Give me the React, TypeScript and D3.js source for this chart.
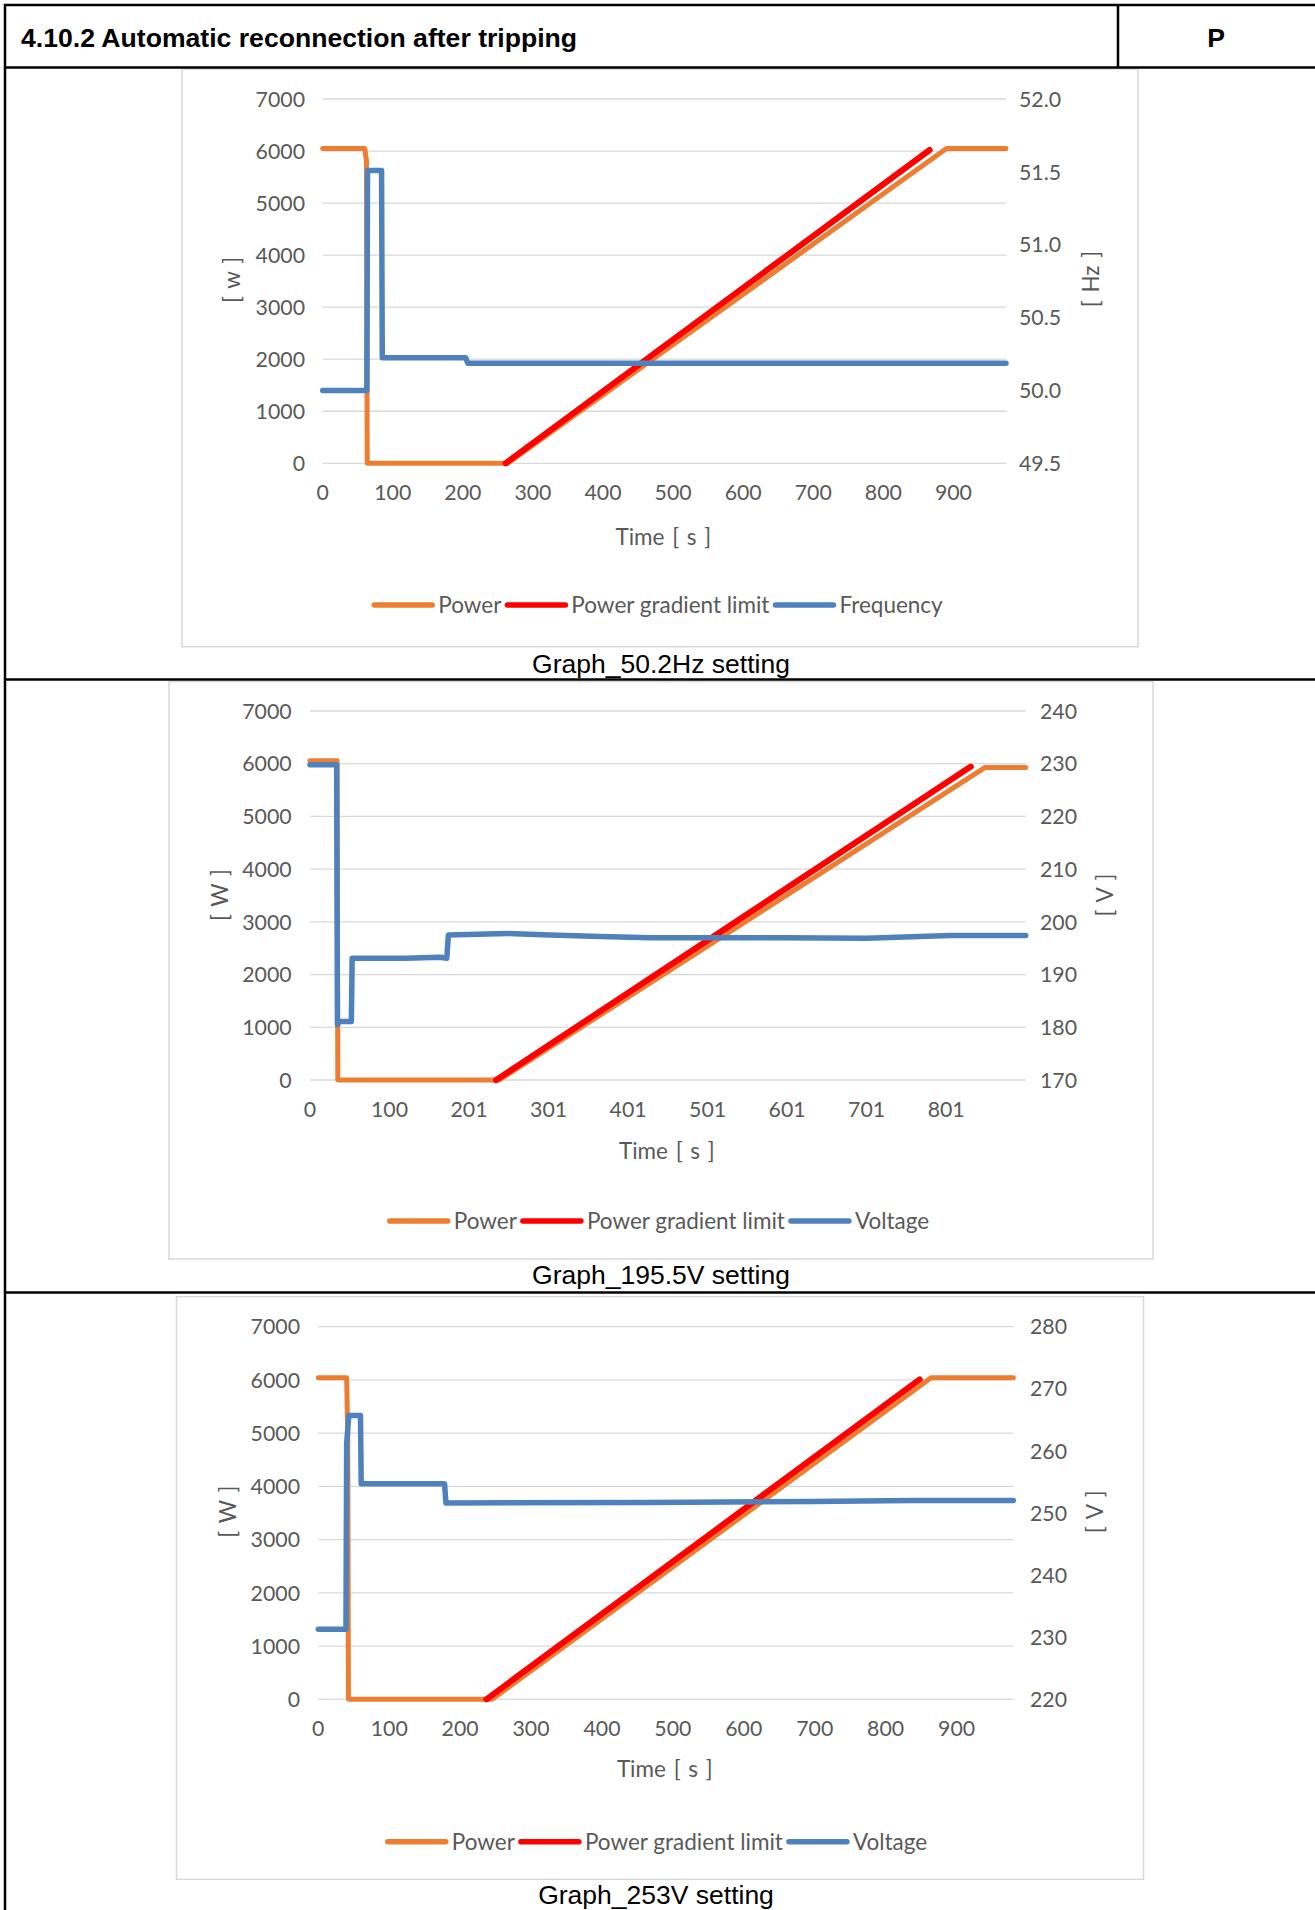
import React, { useEffect, useRef } from "react";
import * as d3 from "d3";

type Pt = [number, number];

// ---------- data ----------
const powerTicks = [0, 1000, 2000, 3000, 4000, 5000, 6000, 7000];

// Graph 1: 50.2 Hz setting
const time1Ticks = [0, 100, 200, 300, 400, 500, 600, 700, 800, 900];
const time1Labels = ["0", "100", "200", "300", "400", "500", "600", "700", "800", "900"];
const freqTicks = [49.5, 50.0, 50.5, 51.0, 51.5, 52.0];
const power1: Pt[] = [[0, 6050], [60, 6050], [62.5, 5800], [63.5, 0], [264, 0], [890, 6050], [975, 6050]];
const gradient1: Pt[] = [[261, 0], [866, 6020]];
const frequency1: Pt[] = [[0, 50.0], [63, 50.0], [64, 51.51], [84, 51.51], [85, 50.225], [204, 50.225], [207, 50.186], [975, 50.186]];

// Graph 2: 195.5 V setting
const time2Ticks = [0, 100, 200, 300, 400, 500, 600, 700, 800];
const time2Labels = ["0", "100", "201", "301", "401", "501", "601", "701", "801"];
const volt2Ticks = [170, 180, 190, 200, 210, 220, 230, 240];
const power2: Pt[] = [[0, 6055], [34, 6055], [35, 0], [238, 0], [849, 5930], [900, 5930]];
const gradient2: Pt[] = [[234, 0], [831, 5945]];
const voltage2: Pt[] = [[0, 229.8], [33.5, 229.8], [34.5, 180.5], [37, 181.1], [52, 181.1], [53, 193.1], [120, 193.1], [164, 193.3], [172, 193.1], [174, 197.5], [249, 197.8], [302, 197.5], [365, 197.2], [428, 197.0], [595, 197.0], [700, 196.9], [805, 197.4], [900, 197.4]];

// Graph 3: 253 V setting
const time3Ticks = [0, 100, 200, 300, 400, 500, 600, 700, 800, 900];
const time3Labels = ["0", "100", "200", "300", "400", "500", "600", "700", "800", "900"];
const volt3Ticks = [220, 230, 240, 250, 260, 270, 280];
const power3: Pt[] = [[0, 6040], [40, 6040], [41.5, 5000], [42.5, 0], [245, 0], [864, 6040], [980, 6040]];
const gradient3: Pt[] = [[237, 0], [848, 6010]];
const voltage3: Pt[] = [[0, 231.3], [39, 231.3], [40, 261.2], [43, 265.7], [59.5, 265.7], [60.5, 254.7], [178, 254.7], [180, 251.6], [467, 251.7], [696, 251.85], [837, 252.0], [980, 252.0]];

const seriesNames1 = ["Power", "Power gradient limit", "Frequency"];
const seriesNames23 = ["Power", "Power gradient limit", "Voltage"];

// ---------- style ----------
const ORANGE = "#ED7D31";
const RED = "#FF0000";
const BLUE = "#4F81BD";
const GRID = "#D9D9D9";
const TXT = "#595959";
const CHART_FONT = "Lato, 'Open Sans', sans-serif";
const DOC_FONT = "'Liberation Sans', Arial, sans-serif";
const TICK_SIZE = 21.3;
const LABEL_SIZE = 22.5;

interface PanelCfg {
  box: [number, number, number, number];
  plot: { x0: number; x1: number; yTop: number; yBot: number };
  xMax: number;
  xTicks: number[];
  xLabels: string[];
  rDomain: [number, number];
  rTicks: number[];
  rFormat: (v: number) => string;
  leftLabelX: number;
  rightLabelX: number;
  leftTitle: string;
  leftTitlePos: [number, number];
  rightTitle: string;
  rightTitlePos: [number, number];
  timeTitleY: number;
  legendY: number;
  legendCx: number;
  names: string[];
  power: Pt[];
  gradient: Pt[];
  second: Pt[];
  caption: string;
  captionPos: [number, number];
}

const panels: PanelCfg[] = [
  {
    box: [182, 69, 1138, 646.7],
    plot: { x0: 322.7, x1: 1006, yTop: 99, yBot: 463.3 },
    xMax: 975,
    xTicks: time1Ticks,
    xLabels: time1Labels,
    rDomain: [49.5, 52.0],
    rTicks: freqTicks,
    rFormat: d3.format(".1f"),
    leftLabelX: 305,
    rightLabelX: 1019,
    leftTitle: "[ w ]",
    leftTitlePos: [231.7, 280],
    rightTitle: "[ Hz ]",
    rightTitlePos: [1090.7, 279],
    timeTitleY: 537,
    legendY: 605,
    legendCx: 658.5,
    names: seriesNames1,
    power: power1,
    gradient: gradient1,
    second: frequency1,
    caption: "Graph_50.2Hz setting",
    captionPos: [661, 673],
  },
  {
    box: [169, 681.7, 1153, 1259],
    plot: { x0: 310, x1: 1025.7, yTop: 711, yBot: 1080 },
    xMax: 900,
    xTicks: time2Ticks,
    xLabels: time2Labels,
    rDomain: [170, 240],
    rTicks: volt2Ticks,
    rFormat: d3.format("d"),
    leftLabelX: 291.7,
    rightLabelX: 1040,
    leftTitle: "[ W ]",
    leftTitlePos: [220, 895],
    rightTitle: "[ V ]",
    rightTitlePos: [1105, 895],
    timeTitleY: 1151,
    legendY: 1221,
    legendCx: 659.5,
    names: seriesNames23,
    power: power2,
    gradient: gradient2,
    second: voltage2,
    caption: "Graph_195.5V setting",
    captionPos: [661, 1283.5],
  },
  {
    box: [176.5, 1296.7, 1143.5, 1879.3],
    plot: { x0: 318.3, x1: 1013.3, yTop: 1326.7, yBot: 1699.3 },
    xMax: 980,
    xTicks: time3Ticks,
    xLabels: time3Labels,
    rDomain: [220, 280],
    rTicks: volt3Ticks,
    rFormat: d3.format("d"),
    leftLabelX: 300,
    rightLabelX: 1030,
    leftTitle: "[ W ]",
    leftTitlePos: [228.3, 1511.7],
    rightTitle: "[ V ]",
    rightTitlePos: [1095, 1511.7],
    timeTitleY: 1769,
    legendY: 1841.7,
    legendCx: 657.5,
    names: seriesNames23,
    power: power3,
    gradient: gradient3,
    second: voltage3,
    caption: "Graph_253V setting",
    captionPos: [656, 1904],
  },
];

function drawPanel(root: d3.Selection<SVGSVGElement, unknown, null, undefined>, c: PanelCfg) {
  const g = root.append("g");
  const [bx0, by0, bx1, by1] = c.box;
  g.append("rect")
    .attr("x", bx0).attr("y", by0)
    .attr("width", bx1 - bx0).attr("height", by1 - by0)
    .attr("fill", "#fff").attr("stroke", GRID).attr("stroke-width", 1.5);

  const x = d3.scaleLinear().domain([0, c.xMax]).range([c.plot.x0, c.plot.x1]);
  const yL = d3.scaleLinear().domain([0, 7000]).range([c.plot.yBot, c.plot.yTop]);
  const yR = d3.scaleLinear().domain(c.rDomain).range([c.plot.yBot, c.plot.yTop]);

  // gridlines
  g.append("g").selectAll("line").data(powerTicks).join("line")
    .attr("x1", c.plot.x0).attr("x2", c.plot.x1)
    .attr("y1", (d) => yL(d)).attr("y2", (d) => yL(d))
    .attr("stroke", GRID).attr("stroke-width", 1.3);

  const txt = g.append("g").attr("font-family", CHART_FONT).attr("fill", TXT).attr("font-size", TICK_SIZE);
  // left tick labels
  txt.append("g").selectAll("text").data(powerTicks).join("text")
    .attr("x", c.leftLabelX).attr("y", (d) => yL(d)).attr("dy", "0.36em")
    .attr("text-anchor", "end").text((d) => String(d));
  // right tick labels
  txt.append("g").selectAll("text").data(c.rTicks).join("text")
    .attr("x", c.rightLabelX).attr("y", (d) => yR(d)).attr("dy", "0.36em")
    .attr("text-anchor", "start").text((d) => c.rFormat(d));
  // x tick labels
  txt.append("g").selectAll("text").data(c.xTicks).join("text")
    .attr("x", (d) => x(d)).attr("y", c.plot.yBot + 29).attr("dy", "0.36em")
    .attr("text-anchor", "middle").text((_d, i) => c.xLabels[i]);
  // axis titles
  const titles = g.append("g").attr("font-family", CHART_FONT).attr("fill", TXT)
    .attr("font-size", LABEL_SIZE).attr("word-spacing", 2);
  titles.append("text").attr("x", (c.plot.x0 + c.plot.x1) / 2 - 1).attr("y", c.timeTitleY).attr("dy", "0.36em")
    .attr("text-anchor", "middle").text("Time [ s ]");
  titles.append("text")
    .attr("transform", `translate(${c.leftTitlePos[0]},${c.leftTitlePos[1]}) rotate(-90)`)
    .attr("dy", "0.36em").attr("text-anchor", "middle").text(c.leftTitle);
  titles.append("text")
    .attr("transform", `translate(${c.rightTitlePos[0]},${c.rightTitlePos[1]}) rotate(-90)`)
    .attr("dy", "0.36em").attr("text-anchor", "middle").text(c.rightTitle);

  // series
  const lineL = d3.line<Pt>().x((d) => x(d[0])).y((d) => yL(d[1]));
  const lineR = d3.line<Pt>().x((d) => x(d[0])).y((d) => yR(d[1]));
  const series = [
    { d: lineL(c.power), color: ORANGE, w: 5 },
    { d: lineL(c.gradient), color: RED, w: 6 },
    { d: lineR(c.second), color: BLUE, w: 5.5 },
  ];
  g.append("g").selectAll("path").data(series).join("path")
    .attr("d", (s) => s.d as string)
    .attr("fill", "none").attr("stroke", (s) => s.color).attr("stroke-width", (s) => s.w)
    .attr("stroke-linejoin", "round").attr("stroke-linecap", "round");

  // legend
  const colors = [ORANGE, RED, BLUE];
  const leg = g.append("g").attr("font-family", CHART_FONT).attr("font-size", LABEL_SIZE).attr("fill", TXT);
  const lineLen = 58;
  const gapAfterLine = 6;
  const gapAfterText = 6;
  const items = c.names.map((n, i) => {
    const t = leg.append("text").attr("y", c.legendY).attr("dy", "0.36em").text(n);
    const w = (t.node() as SVGTextElement).getComputedTextLength();
    return { t, w, color: colors[i] };
  });
  const total = items.reduce((s, it) => s + lineLen + gapAfterLine + it.w + gapAfterText, 0) - gapAfterText;
  let cx = c.legendCx - total / 2;
  items.forEach((it) => {
    leg.append("line").attr("x1", cx).attr("x2", cx + lineLen)
      .attr("y1", c.legendY).attr("y2", c.legendY)
      .attr("stroke", it.color).attr("stroke-width", 5.5).attr("stroke-linecap", "round");
    cx += lineLen + gapAfterLine;
    it.t.attr("x", cx);
    cx += it.w + gapAfterText;
  });

  // caption
  root.append("text").attr("x", c.captionPos[0]).attr("y", c.captionPos[1])
    .attr("text-anchor", "middle").attr("font-family", DOC_FONT).attr("font-size", 26.5)
    .attr("fill", "#000").text(c.caption);
}

export default function App() {
  const ref = useRef<SVGSVGElement>(null);
  useEffect(() => {
    if (!ref.current) return;
    const root = d3.select(ref.current);
    root.selectAll("*").remove();
    root.append("rect").attr("width", 1315).attr("height", 1910).attr("fill", "#fff");

    panels.forEach((p) => drawPanel(root, p));

    // table frame
    const frame = root.append("g").attr("stroke", "#000").attr("stroke-width", 2.5);
    frame.append("line").attr("x1", 4).attr("x2", 1315).attr("y1", 5).attr("y2", 5);
    frame.append("line").attr("x1", 5).attr("x2", 5).attr("y1", 4).attr("y2", 1910);
    frame.append("line").attr("x1", 4).attr("x2", 1315).attr("y1", 67.5).attr("y2", 67.5);
    frame.append("line").attr("x1", 1118).attr("x2", 1118).attr("y1", 5).attr("y2", 67.5);
    frame.append("line").attr("x1", 4).attr("x2", 1315).attr("y1", 679.5).attr("y2", 679.5);
    frame.append("line").attr("x1", 4).attr("x2", 1315).attr("y1", 1292.5).attr("y2", 1292.5);

    root.append("text").attr("x", 21).attr("y", 46.5)
      .attr("font-family", DOC_FONT).attr("font-weight", "bold").attr("font-size", 26.6)
      .attr("fill", "#000").text("4.10.2 Automatic reconnection after tripping");
    root.append("text").attr("x", 1216).attr("y", 46.5).attr("text-anchor", "middle")
      .attr("font-family", DOC_FONT).attr("font-weight", "bold").attr("font-size", 26.6)
      .attr("fill", "#000").text("P");
  }, []);
  return (
    <svg
      ref={ref}
      width={1315}
      height={1910}
      style={{ position: "absolute", left: 0, top: 0, display: "block" }}
    />
  );
}
